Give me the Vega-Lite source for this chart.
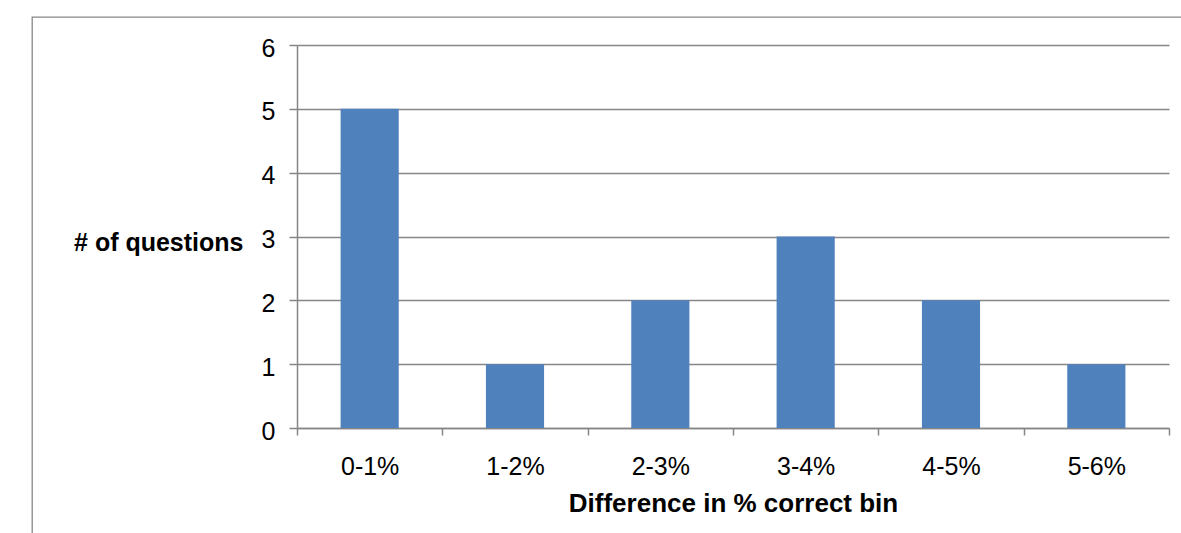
{
  "$schema": "https://vega.github.io/schema/vega-lite/v6.json",
  "autosize": {"type": "none"},
  "padding": {"left": 32, "top": 17, "right": 0, "bottom": 0},
  "width": 1149,
  "height": 516,
  "background": "white",
  "view": {"fill": "white", "stroke": "#878787", "strokeWidth": 1.3, "strokeDash": [1149, 1665, 516]},
  "data": {
    "values": [
      {"bin": "0-1%", "count": 5},
      {"bin": "1-2%", "count": 1},
      {"bin": "2-3%", "count": 2},
      {"bin": "3-4%", "count": 3},
      {"bin": "4-5%", "count": 2},
      {"bin": "5-6%", "count": 1}
    ]
  },
  "mark": {"type": "bar", "color": "#4F81BD", "width": {"band": 0.4}},
  "encoding": {
    "x": {
      "field": "bin",
      "type": "nominal",
      "sort": null,
      "scale": {"range": [265, 1137], "paddingInner": 0, "paddingOuter": 0},
      "axis": {
        "title": "Difference in % correct bin",
        "orient": "bottom",
        "offset": -105,
        "labelAngle": 0,
        "tickBand": "extent",
        "tickSize": 7,
        "labelPadding": 19,
        "grid": false,
        "titleY": 83,
        "titleBaseline": "alphabetic",
        "titleFontSize": 26
      }
    },
    "y": {
      "field": "count",
      "type": "quantitative",
      "scale": {"domain": [0, 6], "range": [411, 28], "nice": false},
      "axis": {
        "title": "# of questions",
        "offset": -265,
        "values": [0, 1, 2, 3, 4, 5, 6],
        "tickSize": 8,
        "labelPadding": 14,
        "labelOffset": 3,
        "grid": true,
        "titleAngle": 0,
        "titleAlign": "right",
        "titleBaseline": "alphabetic",
        "titleX": -54,
        "titleY": 233
      }
    }
  },
  "config": {
    "font": "Liberation Sans",
    "axis": {
      "domainColor": "#868686",
      "domainWidth": 1.5,
      "tickColor": "#868686",
      "tickWidth": 1.5,
      "gridColor": "#868686",
      "gridWidth": 1.5,
      "gridOpacity": 1,
      "labelFont": "Liberation Sans",
      "labelFontSize": 25,
      "labelColor": "#000000",
      "titleFont": "Liberation Sans",
      "titleFontSize": 25,
      "titleFontWeight": "bold",
      "titleColor": "#000000"
    }
  }
}
